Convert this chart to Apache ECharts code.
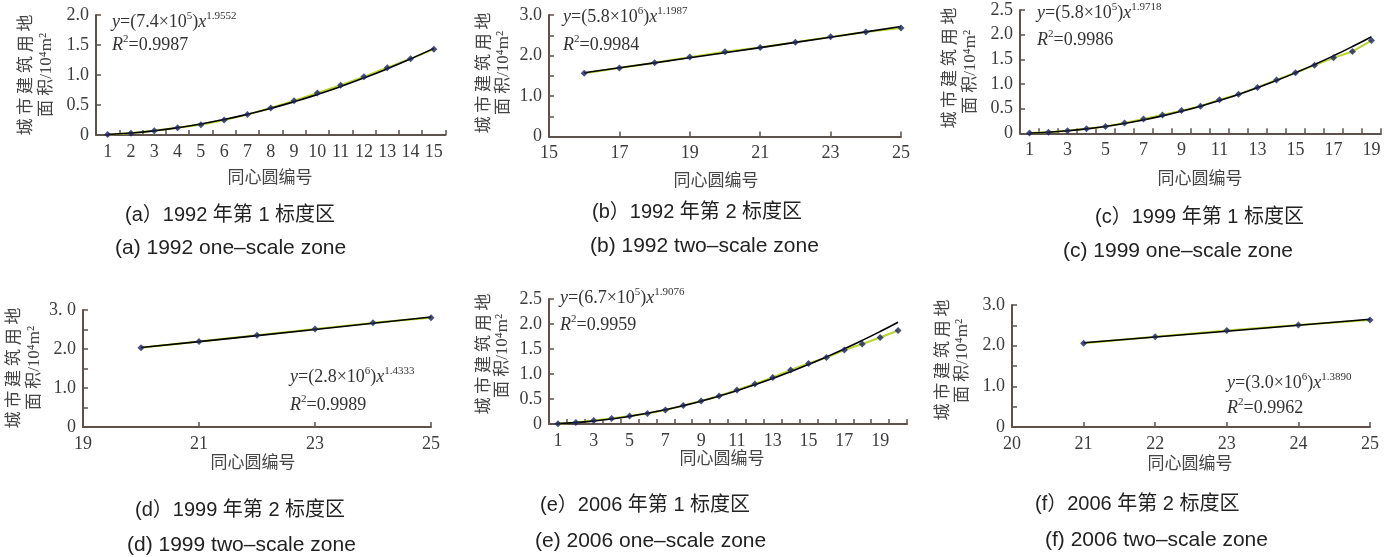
<!DOCTYPE html>
<html><head><meta charset="utf-8">
<script src="https://cdn.jsdelivr.net/npm/echarts@6/dist/echarts.min.js"></script>
<style>html,body{margin:0;padding:0;background:#fff}#c{width:1384px;height:557px}</style>
</head><body><div id="c"></div>
<script>
// ---------- data ----------
const xA = [1,2,3,4,5,6,7,8,9,10,11,12,13,14,15];
const yA = [0.01,0.03,0.07,0.12,0.17,0.25,0.34,0.45,0.57,0.70,0.83,0.97,1.12,1.27,1.43];
const xB = [16,17,18,19,20,21,22,23,24,25];
const yB = [1.56,1.69,1.82,1.96,2.09,2.20,2.33,2.46,2.58,2.68];
const xC = [1,2,3,4,5,6,7,8,9,10,11,12,13,14,15,16,17,18,19];
const yC = [0.006,0.02,0.05,0.09,0.14,0.21,0.29,0.37,0.46,0.55,0.68,0.79,0.93,1.08,1.23,1.38,1.53,1.66,1.88];
const xD = [20,21,22,23,24,25];
const yD = [2.03,2.19,2.35,2.51,2.67,2.80];
const xE = [1,2,3,4,5,6,7,8,9,10,11,12,13,14,15,16,17,18,19,20];
const yE = [0.006,0.03,0.07,0.11,0.16,0.21,0.28,0.37,0.46,0.56,0.68,0.80,0.93,1.08,1.21,1.33,1.48,1.60,1.73,1.87];
const xF = [21,22,23,24,25];
const yF = [2.06,2.22,2.37,2.51,2.63];

const yTicksA = [0,0.5,1,1.5,2];       const yLabelsA = ['0','0.5','1.0','1.5','2.0'];
const yTicksB = [0,1,2,3];             const yLabelsB = ['0','1.0','2.0','3.0'];
const yTicksC = [0,0.5,1,1.5,2,2.5];   const yLabelsC = ['0','0.5','1.0','1.5','2.0','2.5'];
const yTicksD = [0,1,2,3];             const yLabelsD = ['0','1.0','2.0','3. 0'];
const yTicksE = [0,0.5,1,1.5,2,2.5];   const yLabelsE = ['0','0.5','1.0','1.5','2.0','2.5'];
const yTicksF = [0,1,2,3];             const yLabelsF = ['0','1.0','2.0','3.0'];
const xTicksB = [15,17,19,21,23,25];
const xTicksD = [19,21,23,25];
const xTicksF = [20,21,22,23,24,25];

const yTitle1 = '城 市 建 筑 用 地';
const yTitle2 = '面 积/10⁴m²';
const xTitle = '同心圆编号';
const capZh = ['(a）1992 年第 1 标度区','(b）1992 年第 2 标度区','(c）1999 年第 1 标度区','(d）1999 年第 2 标度区','(e）2006 年第 1 标度区','(f）2006 年第 2 标度区'];
const capEn = ['(a) 1992 one–scale zone','(b) 1992 two–scale zone','(c) 1999 one–scale zone','(d) 1999 two–scale zone','(e) 2006 one–scale zone','(f) 2006 two–scale zone'];
const coef = ['7.4','5.8','5.8','2.8','6.7','3.0'];
const coefExp = ['5','6','5','6','5','6'];
const powExp = ['1.9552','1.1987','1.9718','1.4333','1.9076','1.3890'];
const r2 = ['0.9987','0.9984','0.9986','0.9989','0.9959','0.9962'];

// ---------- layout / style ----------
const panels = [
  {xs:xA, ys:yA, cat:true, li:0, yMax:2,   yt:yTicksA, yl:yLabelsA, g:[96,15,349.5,120],
   yT:[25,75,47,75], xT:[270,177], cz:[125,215], ce:[115,248], f:[112,22,112,45]},
  {xs:xB, ys:yB, cat:false, xmin:15, xmax:25, xt:xTicksB, yMax:3, yt:yTicksB, yl:yLabelsB, g:[549,15,352,121.5],
   yT:[483,73,504,73], xT:[716,180], cz:[592,212], ce:[590,246], f:[563,17,563,45]},
  {xs:xC, ys:yC, cat:true, li:1, yMax:2.5, yt:yTicksC, yl:yLabelsC, g:[1020,10,361,123.3],
   yT:[949,68,971,72], xT:[1200,178], cz:[1095,217], ce:[1063,251], f:[1037,13,1037,40]},
  {xs:xD, ys:yD, cat:false, xmin:19, xmax:25, xt:xTicksD, yMax:3, yt:yTicksD, yl:yLabelsD, g:[83,310,348,117],
   yT:[13,368,35,368], xT:[253,462], cz:[135,510], ce:[127,545], f:[290,377,290,405]},
  {xs:xE, ys:yE, cat:true, li:1, yMax:2.5, yt:yTicksE, yl:yLabelsE, g:[549,299,358,125],
   yT:[483,354,503,356], xT:[722,458], cz:[540,505], ce:[535,541], f:[560,298,560,325]},
  {xs:xF, ys:yF, cat:false, xmin:20, xmax:25, xt:xTicksF, yMax:3, yt:yTicksF, yl:yLabelsF, g:[1012,305,358,122],
   yT:[942,360,963,361], xT:[1190,463], cz:[1035,504], ce:[1045,540], f:[1227,383,1227,408]}
];

const axisColor = '#5e524c';
const labelColor = '#3c3c3c';
const serif = "'Liberation Serif','Noto Sans CJK SC'";
const cjk = "'Noto Sans CJK SC'";
const capFont = "'Liberation Sans','Noto Sans CJK SC'";

function powerFit(xs, ys){
  const n = xs.length; let sx=0, sy=0, sxx=0, sxy=0;
  for (let k=0;k<n;k++){ const lx=Math.log(xs[k]), ly=Math.log(ys[k]); sx+=lx; sy+=ly; sxx+=lx*lx; sxy+=lx*ly; }
  const b = (n*sxy - sx*sy)/(n*sxx - sx*sx);
  const a = Math.exp((sy - b*sx)/n);
  return xs.map(x => a*Math.pow(x,b));
}

const grid=[], xAxis=[], yAxis=[], series=[], elements=[];
const labelStyle = {color:labelColor, fontFamily:'Liberation Serif', fontSize:18};

panels.forEach((p,i)=>{
  grid.push({left:p.g[0], top:p.g[1], width:p.g[2], height:p.g[3], containLabel:false, outerBoundsMode:'none'});
  const line = {show:true, onZero:false, lineStyle:{color:axisColor, width:2}};
  const tick = {show:true, inside:true, length:5, lineStyle:{color:axisColor, width:1.5}};
  if (p.cat){
    xAxis.push({gridIndex:i, type:'category', data:p.xs.map(String), boundaryGap:true,
      axisLine:line, axisTick:Object.assign({interval:0, alignWithLabel:false}, tick),
      axisLabel:Object.assign({interval:p.li, margin:8}, labelStyle), splitLine:{show:false}});
  } else {
    xAxis.push({gridIndex:i, type:'value', min:p.xmin, max:p.xmax, interval:1,
      axisLine:line, axisTick:Object.assign({customValues:p.xt}, tick),
      axisLabel:Object.assign({customValues:p.xt, margin:8}, labelStyle), splitLine:{show:false}});
  }
  yAxis.push({gridIndex:i, type:'value', min:0, max:p.yMax, interval:0.5,
    axisLine:line, axisTick:tick,
    axisLabel:Object.assign({customValues:p.yt, margin:7, formatter:(v)=>{
      const k = p.yt.findIndex(t=>Math.abs(t-v)<1e-9); return k>=0 ? p.yl[k] : '';}}, labelStyle),
    splitLine:{show:false}});

  const pts = p.cat ? p.ys.slice() : p.xs.map((x,k)=>[x,p.ys[k]]);
  const tr = powerFit(p.xs, p.ys);
  const trPts = p.cat ? tr : p.xs.map((x,k)=>[x,tr[k]]);
  series.push({type:'line', xAxisIndex:i, yAxisIndex:i, data:pts, showSymbol:false, symbol:'none',
    lineStyle:{color:'#b9d531', width:2}, z:2, silent:true});
  series.push({type:'line', xAxisIndex:i, yAxisIndex:i, data:trPts, showSymbol:false, symbol:'none', smooth:p.cat,
    lineStyle:{color:'#000', width:1.6}, z:3, silent:true});
  series.push({type:'scatter', xAxisIndex:i, yAxisIndex:i, data:pts, symbol:'diamond', symbolSize:7,
    itemStyle:{color:'#1c2260'}, z:4, silent:true});

  // y-axis title (two rotated lines)
  elements.push({type:'text', x:p.yT[0], y:p.yT[1], rotation:Math.PI/2,
    style:{text:yTitle1, fill:'#444', font:'17px '+cjk, align:'center', verticalAlign:'middle', textAlign:'center', textVerticalAlign:'middle'}});
  elements.push({type:'text', x:p.yT[2], y:p.yT[3], rotation:Math.PI/2,
    style:{text:yTitle2, fill:'#444', font:'17px '+serif, align:'center', verticalAlign:'middle', textAlign:'center', textVerticalAlign:'middle'}});
  // x-axis title
  elements.push({type:'text', x:p.xT[0], y:p.xT[1],
    style:{text:xTitle, fill:'#444', font:'17px '+cjk, align:'center', verticalAlign:'middle', textAlign:'center', textVerticalAlign:'middle'}});
  // captions
  elements.push({type:'text', x:p.cz[0], y:p.cz[1],
    style:{text:capZh[i], fill:'#222', font:'20px '+capFont, align:'left', verticalAlign:'middle', textAlign:'left', textVerticalAlign:'middle'}});
  elements.push({type:'text', x:p.ce[0], y:p.ce[1],
    style:{text:capEn[i], fill:'#222', font:'21px '+capFont, align:'left', verticalAlign:'middle', textAlign:'left', textVerticalAlign:'middle'}});
  // regression formula
  const rich = {
    i:{fontFamily:'Liberation Serif', fontStyle:'italic', fontSize:18, fill:'#333', color:'#333', lineHeight:22},
    n:{fontFamily:'Liberation Serif', fontSize:18, fill:'#333', color:'#333', lineHeight:22},
    s:{fontFamily:'Liberation Serif', fontSize:11, fill:'#333', color:'#333', lineHeight:11, verticalAlign:'top'}
  };
  elements.push({type:'text', x:p.f[0], y:p.f[1],
    style:{text:'{i|y}{n|=(' + coef[i] + '×10}{s|' + coefExp[i] + '}{n|)}{i|x}{s|' + powExp[i] + '}',
      rich:rich, align:'left', verticalAlign:'middle', textAlign:'left', textVerticalAlign:'middle'}});
  elements.push({type:'text', x:p.f[2], y:p.f[3],
    style:{text:'{i|R}{s|2}{n|=' + r2[i] + '}',
      rich:rich, align:'left', verticalAlign:'middle', textAlign:'left', textVerticalAlign:'middle'}});
});

const chart = echarts.init(document.getElementById('c'), null, {renderer:'canvas'});
chart.setOption({animation:false, backgroundColor:'#fff', grid, xAxis, yAxis, series, graphic:{elements}});
</script></body></html>
